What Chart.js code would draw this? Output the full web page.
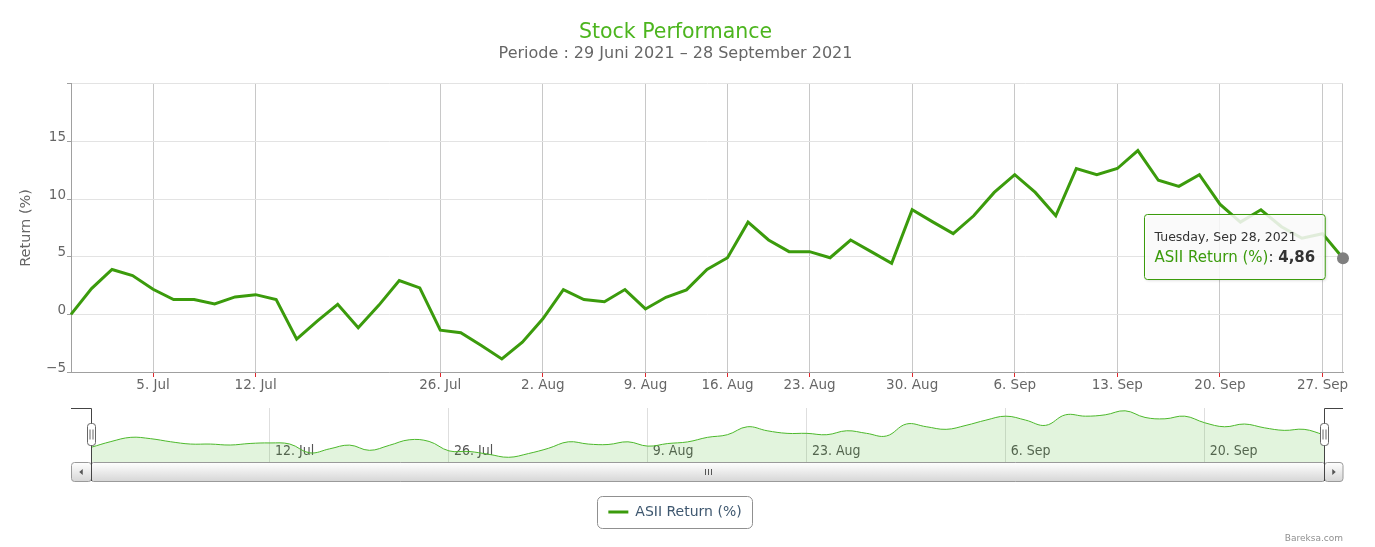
<!DOCTYPE html>
<html>
<head>
<meta charset="utf-8">
<title>Stock Performance</title>
<script src="https://cdn.jsdelivr.net/npm/chart.js@4.4.0/dist/chart.umd.min.js"></script>
<style>
    html, body { margin: 0; padding: 0; background: #fff; }
    #wrap { position: relative; width: 1375px; height: 547px; overflow: hidden; }
    #mainChart { position: absolute; left: 0; top: 0; }
    #navChart { position: absolute; left: 0; top: 395px; }
</style>
</head>
<body>
<div id="wrap">
    <canvas id="mainChart" width="1375" height="395"></canvas>
    <canvas id="navChart" width="1375" height="152"></canvas>
</div>
<script>
// ============================================================
// DATA
// ============================================================

const judul = 'Stock Performance';
const subjudul = 'Periode : 29 Juni 2021 – 28 September 2021';
const namaSeri = 'ASII Return (%)';

// hari bursa (sumbu ordinal, tanpa akhir pekan / libur)
const tanggal = [
    '2021-06-29', '2021-06-30',
    '2021-07-01', '2021-07-02', '2021-07-05', '2021-07-06', '2021-07-07', '2021-07-08', '2021-07-09',
    '2021-07-12', '2021-07-13', '2021-07-14', '2021-07-15', '2021-07-16', '2021-07-19', '2021-07-21',
    '2021-07-22', '2021-07-23', '2021-07-26', '2021-07-27', '2021-07-28', '2021-07-29', '2021-07-30',
    '2021-08-02', '2021-08-03', '2021-08-04', '2021-08-05', '2021-08-06', '2021-08-09', '2021-08-10',
    '2021-08-12', '2021-08-13', '2021-08-16', '2021-08-18', '2021-08-19', '2021-08-20', '2021-08-23',
    '2021-08-24', '2021-08-25', '2021-08-26', '2021-08-27', '2021-08-30', '2021-08-31',
    '2021-09-01', '2021-09-02', '2021-09-03', '2021-09-06', '2021-09-07', '2021-09-08', '2021-09-09',
    '2021-09-10', '2021-09-13', '2021-09-14', '2021-09-15', '2021-09-16', '2021-09-17', '2021-09-20',
    '2021-09-21', '2021-09-22', '2021-09-23', '2021-09-24', '2021-09-27', '2021-09-28'
];

const returnASII = [
    0.00, 2.24,
    3.89, 3.37, 2.18, 1.28, 1.28, 0.90, 1.51,
    1.71, 1.28, -2.15, -0.58, 0.87, -1.16, 0.78,
    2.94, 2.30, -1.37, -1.60, -2.70, -3.87, -2.41,
    -0.38, 2.15, 1.28, 1.10, 2.15, 0.47, 1.48,
    2.12, 3.89, 4.91, 8.00, 6.45, 5.44, 5.44,
    4.91, 6.45, 5.44, 4.42, 9.07, 8.02,
    7.00, 8.55, 10.58, 12.12, 10.58, 8.55, 12.65,
    12.12, 12.65, 14.21, 11.63, 11.10, 12.12, 9.56,
    8.00, 9.07, 7.60, 6.60, 7.00, 4.86
];

const tickUtama = [
    '2021-07-05', '2021-07-12', '2021-07-26', '2021-08-02', '2021-08-09', '2021-08-16',
    '2021-08-23', '2021-08-30', '2021-09-06', '2021-09-13', '2021-09-20', '2021-09-27'
];
const tickNavigator = ['2021-07-12', '2021-07-26', '2021-08-09', '2021-08-23', '2021-09-06', '2021-09-20'];
const tickReturn = [-5, 0, 5, 10, 15, 20];

// ============================================================
// GAYA & FORMAT
// ============================================================

const FONT = "'DejaVu Sans', Verdana, sans-serif";
const FONT_SEMPIT = "'DejaVu Sans Condensed', 'DejaVu Sans', sans-serif";
const HIJAU = '#3b9b0c';
const HIJAU_JUDUL = '#4cb51e';
const ABU_TEKS = '#666666';

Chart.defaults.font.family = FONT;

const BULAN = ['Jan', 'Feb', 'Mar', 'Apr', 'May', 'Jun', 'Jul', 'Aug', 'Sep', 'Oct', 'Nov', 'Dec'];
const HARI = ['Sunday', 'Monday', 'Tuesday', 'Wednesday', 'Thursday', 'Friday', 'Saturday'];

function parseTanggal(s) {
    const [y, m, d] = s.split('-').map(Number);
    return new Date(Date.UTC(y, m - 1, d));
}

function labelSumbu(s) {
    const d = parseTanggal(s);
    return `${d.getUTCDate()}. ${BULAN[d.getUTCMonth()]}`;
}

function labelTooltip(s) {
    const d = parseTanggal(s);
    return `${HARI[d.getUTCDay()]}, ${BULAN[d.getUTCMonth()]} ${d.getUTCDate()}, ${d.getUTCFullYear()}`;
}

function formatAngka(v) {
    return v.toFixed(2).replace('.', ',');
}

const titikData = returnASII.map((v, i) => ({ x: i, y: v }));
const indeksTerakhir = returnASII.length - 1;
const posTickUtama = tickUtama.map(t => tanggal.indexOf(t));
const posTickNav = tickNavigator.map(t => tanggal.indexOf(t));

// ============================================================
// PLUGIN: tooltip tetap, batas kanan plot
// ============================================================

const pluginTooltip = {
    id: 'tooltipTetap',
    afterDraw(chart) {
        const el = chart.getDatasetMeta(0).data[indeksTerakhir];
        if (!el) return;
        const ctx = chart.ctx;
        const teksJudul = labelTooltip(tanggal[indeksTerakhir]);
        const teksNilai = formatAngka(returnASII[indeksTerakhir]);
        const fJudul = `12.5px ${FONT}`;
        const fBadan = `15px ${FONT}`;
        const fTebal = `bold 15px ${FONT}`;

        ctx.save();
        ctx.font = fJudul;
        const wJudul = ctx.measureText(teksJudul).width;
        ctx.font = fBadan;
        const wNama = ctx.measureText(namaSeri).width;
        const wTitik = ctx.measureText(': ').width;
        ctx.font = fTebal;
        const wNilai = ctx.measureText(teksNilai).width;

        const pad = 10;
        const w = Math.max(wJudul, wNama + wTitik + wNilai) + pad * 2;
        const h = 65;
        const x = Math.round(el.x - 18 - w) + 0.5;
        const y = Math.round(el.y - 44) + 0.5;

        ctx.shadowColor = 'rgba(0,0,0,0.18)';
        ctx.shadowBlur = 3;
        ctx.shadowOffsetX = 1;
        ctx.shadowOffsetY = 1;
        ctx.beginPath();
        ctx.roundRect(x, y, w, h, 3);
        ctx.fillStyle = 'rgba(255,255,255,0.85)';
        ctx.fill();
        ctx.shadowColor = 'transparent';
        ctx.lineWidth = 1;
        ctx.strokeStyle = HIJAU;
        ctx.stroke();

        ctx.textBaseline = 'middle';
        ctx.textAlign = 'left';
        ctx.font = fJudul;
        ctx.fillStyle = '#333333';
        ctx.fillText(teksJudul, x + pad, y + 23);

        let tx = x + pad;
        const ty = y + 44;
        ctx.font = fBadan;
        ctx.fillStyle = HIJAU;
        ctx.fillText(namaSeri, tx, ty);
        tx += wNama;
        ctx.fillStyle = '#333333';
        ctx.fillText(': ', tx, ty);
        tx += wTitik;
        ctx.font = fTebal;
        ctx.fillText(teksNilai, tx, ty);
        ctx.restore();
    }
};

const pluginBatasKanan = {
    id: 'batasKanan',
    beforeDatasetsDraw(chart) {
        const { ctx, chartArea } = chart;
        ctx.save();
        ctx.strokeStyle = '#c8c8c8';
        ctx.lineWidth = 1;
        ctx.beginPath();
        ctx.moveTo(Math.round(chartArea.right) - 0.5, chartArea.top);
        ctx.lineTo(Math.round(chartArea.right) - 0.5, chartArea.bottom);
        ctx.stroke();
        ctx.restore();
    }
};

// ============================================================
// GRAFIK UTAMA
// ============================================================

const chartUtama = new Chart(document.getElementById('mainChart'), {
    type: 'line',
    data: {
        datasets: [{
            label: namaSeri,
            data: titikData,
            borderColor: HIJAU,
            borderWidth: 3,
            tension: 0,
            fill: false,
            clip: false,
            pointRadius: ctx => ctx.dataIndex === indeksTerakhir ? 6 : 0,
            pointBackgroundColor: '#7f7f7f',
            pointBorderWidth: 0,
            pointHoverRadius: 6
        }]
    },
    options: {
        responsive: false,
        animation: false,
        devicePixelRatio: 1,
        events: [],
        layout: { padding: { left: 8, right: 32, top: 0, bottom: 0 } },
        plugins: {
            legend: { display: false },
            tooltip: { enabled: false },
            title: {
                display: true,
                text: judul,
                color: HIJAU_JUDUL,
                font: { size: 20.5, weight: 'normal' },
                padding: { top: 20, bottom: 0 }
            },
            subtitle: {
                display: true,
                text: subjudul,
                color: ABU_TEKS,
                font: { size: 16, weight: 'normal' },
                padding: { top: 0, bottom: 20 }
            }
        },
        scales: {
            x: {
                type: 'linear',
                min: 0,
                max: indeksTerakhir,
                afterBuildTicks: scale => {
                    scale.ticks = posTickUtama.map(v => ({ value: v }));
                },
                afterFit: scale => { scale.height = 23; },
                grid: { color: '#c8c8c8', tickColor: '#e0262b', tickLength: 5, drawTicks: true },
                border: { color: '#a0a0a0', width: 1 },
                ticks: {
                    autoSkip: false,
                    maxRotation: 0,
                    color: ABU_TEKS,
                    font: { size: 13.5 },
                    padding: 0,
                    callback: value => {
                        const i = posTickUtama.indexOf(value);
                        return i >= 0 ? labelSumbu(tickUtama[i]) : '';
                    }
                }
            },
            y: {
                min: tickReturn[0],
                max: tickReturn[tickReturn.length - 1],
                afterBuildTicks: scale => {
                    scale.ticks = tickReturn.map(v => ({ value: v }));
                },
                afterFit: scale => { scale.width = 63; },
                grid: { color: '#e3e3e3', tickColor: '#a0a0a0', tickLength: 4 },
                border: { color: '#a0a0a0', width: 1 },
                ticks: {
                    color: ABU_TEKS,
                    font: { size: 13.5 },
                    padding: 1,
                    labelOffset: -4,
                    callback: v => v === tickReturn[tickReturn.length - 1] ? '' : (v < 0 ? '\u2212' + Math.abs(v) : String(v))
                },
                title: {
                    display: true,
                    text: 'Return (%)',
                    color: ABU_TEKS,
                    font: { size: 14.5 },
                    padding: { top: 10, bottom: 0 }
                }
            }
        }
    },
    plugins: [pluginBatasKanan, pluginTooltip]
});

// ============================================================
// NAVIGATOR, SCROLLBAR, LEGENDA, KREDIT
// ============================================================

function kotakGradien(ctx, x, y, w, h, r) {
    const g = ctx.createLinearGradient(0, y, 0, y + h);
    g.addColorStop(0, '#ffffff');
    g.addColorStop(1, '#d6d6d6');
    ctx.beginPath();
    ctx.roundRect(x, y, w, h, r);
    ctx.fillStyle = g;
    ctx.fill();
    ctx.strokeStyle = '#9a9a9a';
    ctx.lineWidth = 1;
    ctx.stroke();
}

const pluginNavigator = {
    id: 'hiasanNavigator',
    beforeDatasetsDraw(chart) {
        // label tanggal di dalam area navigator
        const { ctx, scales } = chart;
        ctx.save();
        ctx.font = `14px ${FONT_SEMPIT}`;
        ctx.fillStyle = '#555555';
        ctx.textAlign = 'left';
        ctx.textBaseline = 'middle';
        posTickNav.forEach((v, i) => {
            ctx.fillText(labelSumbu(tickNavigator[i]), scales.x.getPixelForValue(v) + 5, 56);
        });
        ctx.restore();
    },
    afterDraw(chart) {
        const { ctx, chartArea } = chart;
        const kiri = Math.round(chartArea.left) + 0.5;
        const kanan = Math.round(chartArea.right) + 0.5;
        const atas = Math.round(chartArea.top) + 0.5;
        const bawah = Math.round(chartArea.bottom);
        const luarKiri = 71;
        const luarKanan = 1343;
        const sbAtas = bawah + 0.5;
        const sbTinggi = 19;

        ctx.save();

        // scrollbar
        kotakGradien(ctx, kiri, sbAtas, kanan - kiri, sbTinggi, 2);
        kotakGradien(ctx, luarKiri + 0.5, sbAtas, kiri - luarKiri - 0.5, sbTinggi, 3);
        kotakGradien(ctx, kanan, sbAtas, luarKanan - kanan, sbTinggi, 3);

        ctx.fillStyle = '#555555';
        const tengahY = sbAtas + sbTinggi / 2;
        const ax = (luarKiri + kiri) / 2;
        ctx.beginPath();
        ctx.moveTo(ax - 2, tengahY);
        ctx.lineTo(ax + 1.5, tengahY - 3);
        ctx.lineTo(ax + 1.5, tengahY + 3);
        ctx.closePath();
        ctx.fill();
        const bx = (kanan + luarKanan) / 2;
        ctx.beginPath();
        ctx.moveTo(bx + 2, tengahY);
        ctx.lineTo(bx - 1.5, tengahY - 3);
        ctx.lineTo(bx - 1.5, tengahY + 3);
        ctx.closePath();
        ctx.fill();

        // grip
        const gx = Math.round((kiri + kanan) / 2) + 0.5;
        ctx.strokeStyle = '#555555';
        ctx.lineWidth = 1;
        ctx.beginPath();
        [-3, 0, 3].forEach(d => {
            ctx.moveTo(gx + d, tengahY - 3);
            ctx.lineTo(gx + d, tengahY + 3);
        });
        ctx.stroke();

        // garis tepi navigator
        ctx.strokeStyle = '#444444';
        ctx.beginPath();
        ctx.moveTo(luarKiri, atas);
        ctx.lineTo(kiri, atas);
        ctx.lineTo(kiri, bawah + sbTinggi);
        ctx.moveTo(kanan, bawah + sbTinggi);
        ctx.lineTo(kanan, atas);
        ctx.lineTo(luarKanan, atas);
        ctx.stroke();

        // pegangan
        [kiri, kanan].forEach(hx => {
            const hy = atas + 15;
            ctx.beginPath();
            ctx.roundRect(hx - 4, hy, 8, 22, 3);
            ctx.fillStyle = '#ffffff';
            ctx.fill();
            ctx.strokeStyle = '#666666';
            ctx.stroke();
            ctx.beginPath();
            ctx.moveTo(hx - 1.5, hy + 6);
            ctx.lineTo(hx - 1.5, hy + 16);
            ctx.moveTo(hx + 1.5, hy + 6);
            ctx.lineTo(hx + 1.5, hy + 16);
            ctx.stroke();
        });

        // bingkai legenda
        const hb = chart.legend && chart.legend.legendHitBoxes && chart.legend.legendHitBoxes[0];
        if (hb) {
            const cy = hb.top + hb.height / 2;
            ctx.beginPath();
            ctx.roundRect(Math.round(hb.left - 11) + 0.5, Math.round(cy - 16) + 0.5, Math.round(hb.width + 22), 32, 5);
            ctx.strokeStyle = '#909090';
            ctx.lineWidth = 1;
            ctx.stroke();
        }

        // kredit
        ctx.font = `9px ${FONT}`;
        ctx.fillStyle = '#909090';
        ctx.textAlign = 'right';
        ctx.textBaseline = 'alphabetic';
        ctx.fillText('Bareksa.com', luarKanan, chart.height - 6);

        ctx.restore();
    }
};

const chartNavigator = new Chart(document.getElementById('navChart'), {
    type: 'line',
    data: {
        datasets: [{
            label: namaSeri,
            data: titikData,
            xAxisID: 'x',
            yAxisID: 'yNav',
            borderColor: '#4cb82b',
            borderWidth: 1,
            backgroundColor: 'rgba(76,184,43,0.16)',
            fill: 'start',
            tension: 0.4,
            pointRadius: 0
        }]
    },
    options: {
        responsive: false,
        animation: false,
        devicePixelRatio: 1,
        events: [],
        layout: { padding: { left: 20, right: 45, top: 13, bottom: 18 } },
        plugins: {
            tooltip: { enabled: false },
            legend: {
                display: true,
                position: 'bottom',
                onClick: null,
                labels: {
                    usePointStyle: true,
                    pointStyleWidth: 20,
                    padding: 10,
                    color: '#3e576f',
                    font: { size: 14 },
                    generateLabels: () => [{
                        text: namaSeri,
                        fillStyle: HIJAU,
                        strokeStyle: HIJAU,
                        fontColor: '#3e576f',
                        lineWidth: 3,
                        pointStyle: 'line',
                        hidden: false,
                        datasetIndex: 0
                    }]
                }
            }
        },
        scales: {
            x: {
                type: 'linear',
                min: 0,
                max: indeksTerakhir,
                afterBuildTicks: scale => {
                    scale.ticks = posTickNav.map(v => ({ value: v }));
                },
                afterFit: scale => { scale.height = 33; },
                grid: { color: '#dedede', drawTicks: false },
                border: { display: false },
                ticks: { display: false }
            },
            yNav: {
                type: 'linear',
                position: 'left',
                min: -5.7,
                max: 15.3,
                afterFit: scale => { scale.width = 71; },
                grid: { display: false },
                border: { display: false },
                ticks: { display: false }
            },
            yKanan: {
                type: 'linear',
                position: 'right',
                afterFit: scale => { scale.width = 6; },
                grid: { display: false },
                border: { display: false },
                ticks: { display: false }
            }
        }
    },
    plugins: [pluginNavigator]
});
</script>
</body>
</html>
